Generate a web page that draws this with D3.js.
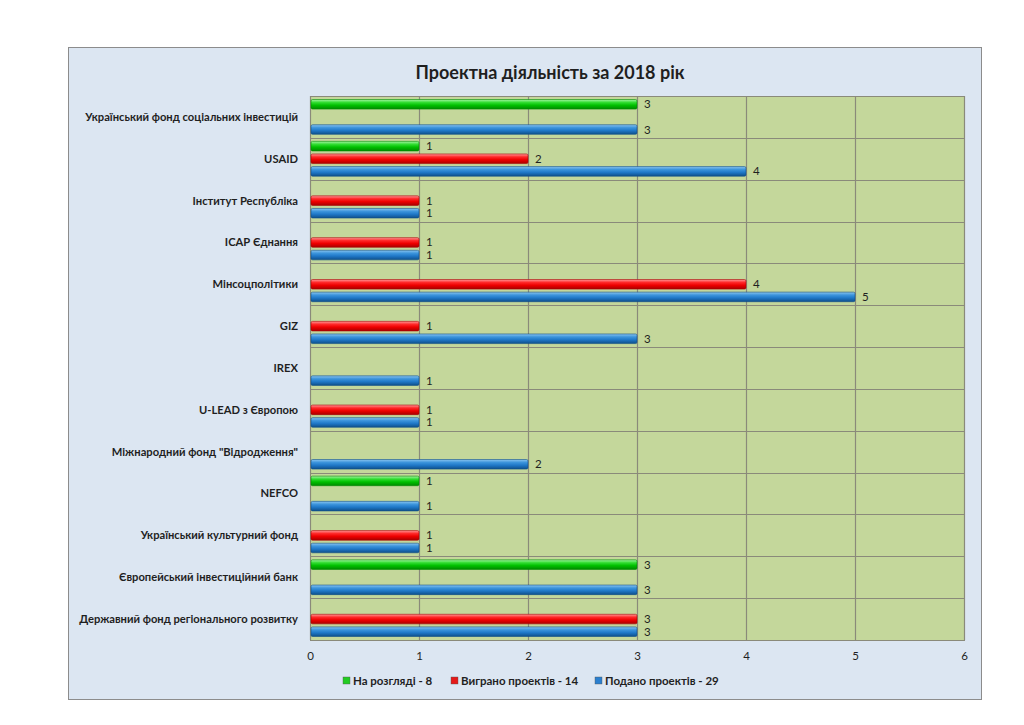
<!DOCTYPE html>
<html><head><meta charset="utf-8">
<script src="https://cdn.jsdelivr.net/npm/d3@7"></script>
<style>body{margin:0;background:#fff}svg{display:block}text{font-family:Lato,"Open Sans",sans-serif}</style>
</head><body>
<svg id="c" width="1024" height="725"></svg>
<script>
const categories = ["Український фонд соціальних інвестицій","USAID","Інститут Республіка","ІСАР Єднання","Мінсоцполітики","GIZ","IREX","U-LEAD з Європою","Міжнародний фонд \"Відродження\"","NEFCO","Український культурний фонд","Європейський інвестиційний банк","Державний фонд регіонального розвитку"];
const seriesNames = ["На розгляді - 8","Виграно проектів - 14","Подано проектів - 29"];
const reviewVals = [3,1,null,null,null,null,null,null,null,1,null,3,null];
const wonVals = [null,2,1,1,4,1,null,1,null,null,1,null,3];
const submittedVals = [3,4,1,1,5,3,1,1,2,1,1,3,3];
const xTicks = [0,1,2,3,4,5,6];
const title = "Проектна діяльність за 2018 рік";

const svg = d3.select("#c");
const defs = svg.append("defs");
const colors = [
  {id:"gG", stops:["#a6f5a6","#33dd33","#00c000","#008a00"]},
  {id:"gR", stops:["#ff9a9a","#ff2a2a","#ee0000","#a80000"]},
  {id:"gB", stops:["#8cc6f0","#3d95dc","#1f78c8","#0f4f8a"]}
];
colors.forEach(c=>{
  const g = defs.append("linearGradient").attr("id",c.id).attr("x1",0).attr("x2",0).attr("y1",0).attr("y2",1);
  [0,0.3,0.6,1].forEach((o,i)=>g.append("stop").attr("offset",o).attr("stop-color",c.stops[i]));
});
const legendColors = ["#22cc22","#e51919","#2a7fcf"];

// outer box
svg.append("rect").attr("x",68.5).attr("y",47.5).attr("width",913).attr("height",652).attr("fill","#dce6f2").attr("stroke","#8c8c8c");

const L=310,R=964,T=96,B=640;
const x = d3.scaleLinear().domain([0,6]).range([L,R]);
const y = d3.scaleBand().domain(categories).range([T,B]).padding(0);
const inner = d3.scaleBand().domain([0,1,2]).range([2,y.bandwidth()-2]).padding(0);
const barH = inner.bandwidth()*0.76;

svg.append("rect").attr("x",L).attr("y",T).attr("width",R-L).attr("height",B-T).attr("fill","#c4d79b");
// gridlines
svg.append("g").selectAll("line").data(xTicks).join("line")
  .attr("x1",d=>x(d)+0.5).attr("x2",d=>x(d)+0.5).attr("y1",T).attr("y2",B).attr("stroke","#8a8a7a").attr("stroke-width",1.2);
svg.append("g").selectAll("line").data(d3.range(categories.length+1)).join("line")
  .attr("x1",L).attr("x2",R).attr("y1",i=>Math.round(T+i*y.bandwidth())+0.5).attr("y2",i=>Math.round(T+i*y.bandwidth())+0.5).attr("stroke","#8a8a7a").attr("stroke-width",1.2);
svg.append("rect").attr("x",L+0.5).attr("y",T+0.5).attr("width",R-L).attr("height",B-T).attr("fill","none").attr("stroke","#8a8a7a");

// title
svg.append("text").attr("x",550).attr("y",79).attr("text-anchor","middle").attr("font-size",18).attr("font-weight","bold").attr("fill","#1f1f1f").text(title);

// category labels
svg.append("g").selectAll("text").data(categories).join("text")
  .attr("x",298).attr("y",d=>y(d)+y.bandwidth()/2).attr("dy","0.35em").attr("text-anchor","end")
  .attr("font-size",11.2).attr("font-weight","bold").attr("fill","#1f1f1f").text(d=>d);

// x tick labels
const xAxis = d3.axisBottom(x).tickValues(xTicks).tickFormat(d3.format("d")).tickSize(0).tickPadding(10);
const ax = svg.append("g").attr("transform",`translate(0,${B+2})`).call(xAxis);
ax.select(".domain").remove();
ax.selectAll("text").attr("font-size",11.5).attr("fill","#1f1f1f").attr("font-family","Lato,sans-serif");

// bars
const allSeries = [reviewVals, wonVals, submittedVals];
allSeries.forEach((vals,si)=>{
  const data = categories.map((c,i)=>({c, v:vals[i]})).filter(d=>d.v!=null);
  const g = svg.append("g");
  g.selectAll("rect").data(data).join("rect")
    .attr("x",x(0)+1).attr("y",d=>y(d.c)+inner(si)+(inner.bandwidth()-barH)/2)
    .attr("width",d=>x(d.v)-x(0)-1).attr("height",barH)
    .attr("rx",1.5).attr("fill",`url(#${colors[si].id})`)
    .attr("stroke",colors[si].stops[3]).attr("stroke-width",0.6);
  g.selectAll("text").data(data).join("text")
    .attr("x",d=>x(d.v)+7).attr("y",d=>y(d.c)+inner(si)+inner.bandwidth()/2).attr("dy","0.35em")
    .attr("font-size",11.5).attr("fill","#1f1f1f").text(d=>d.v);
});

// legend
const legX = [343,451,595];
const lg = svg.append("g").selectAll("g").data(seriesNames).join("g").attr("transform",(d,i)=>`translate(${legX[i]},681)`);
lg.append("rect").attr("x",0).attr("y",-4).attr("width",7).attr("height",7).attr("fill",(d,i)=>legendColors[i]).attr("stroke","#555").attr("stroke-width",0.4);
lg.append("text").attr("x",10).attr("y",0).attr("dy","0.35em").attr("font-size",11.5).attr("font-weight","bold").attr("fill","#1f1f1f").text(d=>d);
</script>
</body></html>
